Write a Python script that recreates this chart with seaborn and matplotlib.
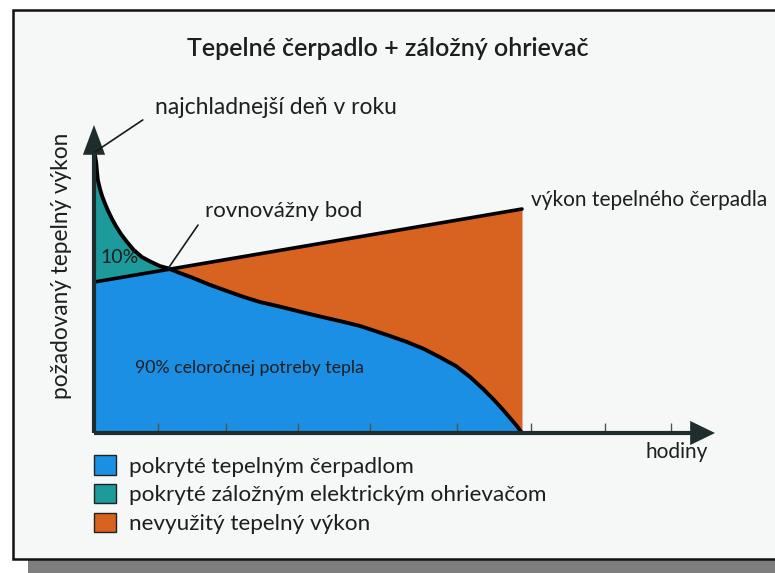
import numpy as np
import pandas as pd
import matplotlib
matplotlib.use("Agg")
import matplotlib.pyplot as plt
from matplotlib.patches import Rectangle, Patch
import seaborn as sns

# Annual heat-demand duration curve (hours on x, required heating power on y)
hours = [0, 0.5, 0.7, 0.9, 1.4, 1.9, 2.6, 3.3, 4.2, 5.1, 6.3, 7.7, 9.3, 11.2,
         13.3, 15.4, 17.1, 20.1, 23.1, 27.1, 31.1, 35.0, 38.8, 42.8, 46.5,
         50.5, 54.4, 58.4, 62.1, 65.7, 69.2, 73.1, 77.1, 80.8, 84.6, 87.9,
         90.9, 93.5, 95.6, 97.4, 98.8, 100]
demand = [100.7, 96.4, 92.9, 90.0, 86.8, 84.3, 81.5, 79.0, 76.2, 73.7, 70.8,
          68.0, 65.1, 62.6, 60.9, 59.4, 58.7, 56.9, 55.2, 52.7, 50.5, 48.4,
          46.6, 45.2, 43.8, 42.3, 40.9, 39.5, 38.1, 36.3, 34.5, 32.4, 29.9,
          27.0, 23.8, 19.9, 15.7, 11.7, 8.2, 5.0, 2.5, 0]

# Heat-pump output rises with outdoor temperature (straight line)
hp_hours = [0, 100]
hp_output = [53.7, 79.7]

# Hour grid marks along the time axis
grid_hours = [15.0, 30.8, 47.7, 64.5, 84.8, 102.1, 119.4, 134.8]

legend_labels = ["pokryté tepelným čerpadlom",
                 "pokryté záložným elektrickým ohrievačom",
                 "nevyužitý tepelný výkon"]
title = "Tepelné čerpadlo + záložný ohrievač"

C_BLUE = "#1b8fe4"
C_TEAL = "#1d9a9c"
C_ORANGE = "#d8621f"
C_AXIS = "#1f2d2d"
C_TEXT = "#1e1e1e"

sns.set_theme(style="white")
plt.rcParams["font.family"] = ["Lato", "DejaVu Sans"]

W, H = 775, 573
fig = plt.figure(figsize=(W / 100, H / 100), dpi=100)
fig.patch.set_facecolor("white")


def fx(px):
    return px / W


def fy(py):
    return 1 - py / H


# page background: drop shadow, framed panel and scanner shading on the right
bg = fig.add_axes([0, 0, 1, 1], zorder=-10)
bg.set_xlim(0, W)
bg.set_ylim(H, 0)
bg.axis("off")
bg.add_patch(Rectangle((28, 25), 800, 600, facecolor="#7e7e7e", edgecolor="none"))
bg.add_patch(Rectangle((13, 10), 800, 549, facecolor="#f6f8f8", edgecolor="#111111", lw=1.8))
grad = np.linspace(0, 1, 64)[None, :] ** 2
shade = np.zeros((1, 64, 4))
shade[..., :3] = np.array([0.78, 0.80, 0.80])
shade[..., 3] = grad * 0.9
bg.imshow(shade, extent=(735, 775, 558, 11), aspect="auto", interpolation="bilinear")

# chart area
ax = fig.add_axes([fx(94), fy(433), fx(715) - fx(94), fy(125) - fy(433)])
ax.set_xlim(0, 145.1)
ax.set_ylim(0, 109.6)
ax.patch.set_alpha(0)
ax.set_axisbelow(False)
sns.despine(ax=ax, left=True, bottom=True)

x = np.asarray(hours, dtype=float)
d = np.asarray(demand, dtype=float)
hp = np.interp(x, hp_hours, hp_output)

ax.fill_between(x, 0, np.minimum(d, hp), color=C_BLUE, lw=0, zorder=1)
ax.fill_between(x, hp, d, where=d >= hp, interpolate=True, color=C_TEAL, lw=0, zorder=1)
ax.fill_between(x, d, hp, where=hp >= d, interpolate=True, color=C_ORANGE, lw=0, zorder=1)

df_curve = pd.DataFrame({"hodiny": hours, "výkon": demand})
df_hp = pd.DataFrame({"hodiny": hp_hours, "výkon": hp_output})
sns.lineplot(data=df_curve, x="hodiny", y="výkon", ax=ax, color="black", lw=2.8,
             zorder=3, sort=False)
sns.lineplot(data=df_hp, x="hodiny", y="výkon", ax=ax, color="black", lw=2.6, zorder=3)
ax.set_xlabel("")
ax.set_ylabel("")

# axes drawn as arrows
ax.plot([0, 0], [0, 100], color=C_AXIS, lw=3, clip_on=False, zorder=4, solid_capstyle="butt")
ax.fill([-2.6, 2.6, 0], [99, 99, 109.6], color=C_AXIS, clip_on=False, zorder=4, lw=0)
ax.plot([0, 140], [0, 0], color=C_AXIS, lw=3, clip_on=False, zorder=4, solid_capstyle="butt")
ax.fill([139.3, 139.3, 145.1], [-4.3, 4.3, 0], color=C_AXIS, clip_on=False, zorder=4, lw=0)

ax.set_xticks(grid_hours)
ax.set_xticklabels([])
ax.set_yticks([])
ax.tick_params(axis="x", direction="in", length=7, width=1.0, colors="#4a5656", bottom=True)
ax.xaxis.set_zorder(3.5)

# leader lines for the callouts
ax.plot([0.2, 11.4], [100, 111.4], color="#1a1a1a", lw=1.2, clip_on=False, zorder=5)
ax.plot([17.3, 24.3], [58.5, 74.0], color="#1a1a1a", lw=1.2, clip_on=False, zorder=5)

# texts
fig.text(fx(388), fy(48), title, ha="center", va="center", fontsize=18,
         fontweight="semibold", color=C_TEXT)
fig.text(fx(155), fy(108), "najchladnejší deň v roku", ha="left", va="center",
         fontsize=16.5, color=C_TEXT)
fig.text(fx(205), fy(211), "rovnovážny bod", ha="left", va="center",
         fontsize=16, color=C_TEXT)
fig.text(fx(531), fy(200), "výkon tepelného čerpadla", ha="left", va="center",
         fontsize=15, color=C_TEXT)
fig.text(fx(100), fy(258), "10%", ha="left", va="center", fontsize=14, color=C_TEXT)
fig.text(fx(135), fy(368), "90% celoročnej potreby tepla", ha="left", va="center",
         fontsize=12.8, color=C_TEXT)
fig.text(fx(708), fy(452), "hodiny", ha="right", va="center", fontsize=15, color=C_TEXT)
fig.text(fx(62), fy(266), "požadovaný tepelný výkon", ha="center", va="center",
         rotation=90, fontsize=16.3, color=C_TEXT)

handles = [Patch(facecolor=c, edgecolor="#222222", lw=1.0)
           for c in (C_BLUE, C_TEAL, C_ORANGE)]
fig.legend(handles, legend_labels, loc="upper left",
           bbox_to_anchor=(fx(85), fy(446)), frameon=False, fontsize=16.2,
           handlelength=0.97, handleheight=0.97, handletextpad=0.6,
           labelspacing=0.32, borderaxespad=0, labelcolor=C_TEXT)

fig.savefig("out.png", dpi=100)
